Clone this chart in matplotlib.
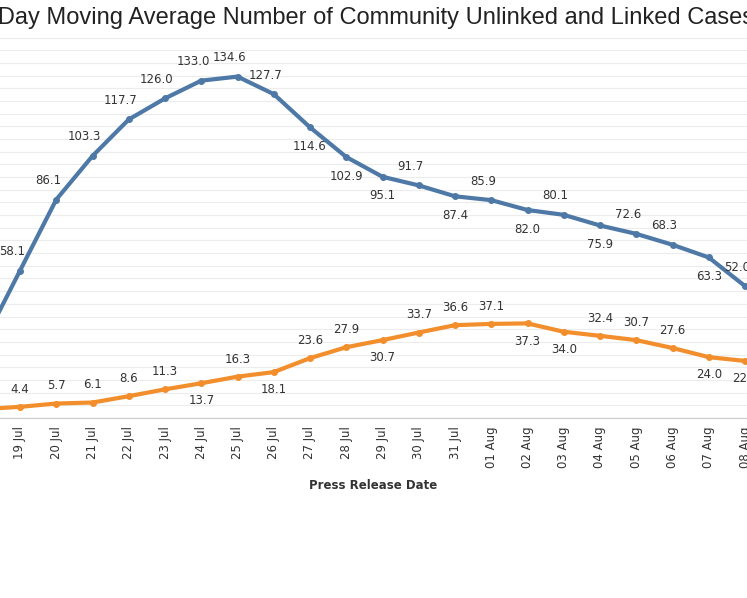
import matplotlib.pyplot as plt

dates = ['18 Jul', '19 Jul', '20 Jul', '21 Jul', '22 Jul', '23 Jul', '24 Jul', '25 Jul', '26 Jul',
         '27 Jul', '28 Jul', '29 Jul', '30 Jul', '31 Jul', '01 Aug', '02 Aug', '03 Aug',
         '04 Aug', '05 Aug', '06 Aug', '07 Aug', '08 Aug', '09 Aug']
unlinked = [30.0, 58.1, 86.1, 103.3, 117.7, 126.0, 133.0, 134.6, 127.7, 114.6, 102.9, 95.1,
            91.7, 87.4, 85.9, 82.0, 80.1, 75.9, 72.6, 68.3, 63.3, 52.0, 46.0]
linked = [3.5, 4.4, 5.7, 6.1, 8.6, 11.3, 13.7, 16.3, 18.1, 23.6, 27.9, 30.7, 33.7, 36.6,
          37.1, 37.3, 34.0, 32.4, 30.7, 27.6, 24.0, 22.5, 21.0]
# label side: 1 above, -1 below
unlinked_side = [1, 1, 1, 1, 1, 1, 1, 1, 1, -1, -1, -1, 1, -1, 1, -1, 1, -1, 1, 1, -1, 1, 1]
linked_side = [1, 1, 1, 1, 1, 1, -1, 1, -1, 1, 1, -1, 1, 1, 1, -1, -1, 1, 1, 1, -1, -1, -1]

blue = '#4e79a7'
orange = '#f28e2b'

fig = plt.figure(figsize=(7.47, 5.98), dpi=100)
ax = fig.add_axes([0, 180 / 598, 1, 383 / 598])
x = list(range(-1, len(dates) - 1))

ax.plot(x, unlinked, color=blue, lw=3, marker='o', ms=4, zorder=3)
ax.plot(x, linked, color=orange, lw=3, marker='o', ms=4, zorder=3)

for xi, v, s in zip(x, unlinked, unlinked_side):
    ax.annotate(f'{v:.1f}', (xi, v), xytext=(-6 if s > 0 else 0, 9 * s), textcoords='offset points',
                ha='center', va='bottom' if s > 0 else 'top', fontsize=8.5, color='#333333')
for xi, v, s in zip(x, linked, linked_side):
    ax.annotate(f'{v:.1f}', (xi, v), xytext=(0, 8 * s), textcoords='offset points',
                ha='center', va='bottom' if s > 0 else 'top', fontsize=8.5, color='#333333')

ax.set_yticks(range(0, 151, 5))
ax.yaxis.grid(True, color='#ececec', lw=0.8)
ax.tick_params(axis='y', left=False, labelleft=False)
ax.set_xticks(x)
ax.set_xticklabels(dates, rotation=90, fontsize=8.5, color='#333333')
ax.tick_params(axis='x', length=0, pad=6)
ax.set_xlim(-20 / 36.25, 727 / 36.25)
ax.set_ylim(0, 151)
for sp in ['top', 'right', 'left']:
    ax.spines[sp].set_visible(False)
ax.spines['bottom'].set_color('#cccccc')
ax.set_xlabel('Press Release Date', fontsize=8.5, fontweight='bold', color='#333333', labelpad=8)

fig.text(-0.03, 1 - 18 / 598, '7 Day Moving Average Number of Community Unlinked and Linked Cases',
         fontsize=17, family='Liberation Sans', va='center', ha='left', color='#222222')

fig.savefig('out.png', dpi=100)
